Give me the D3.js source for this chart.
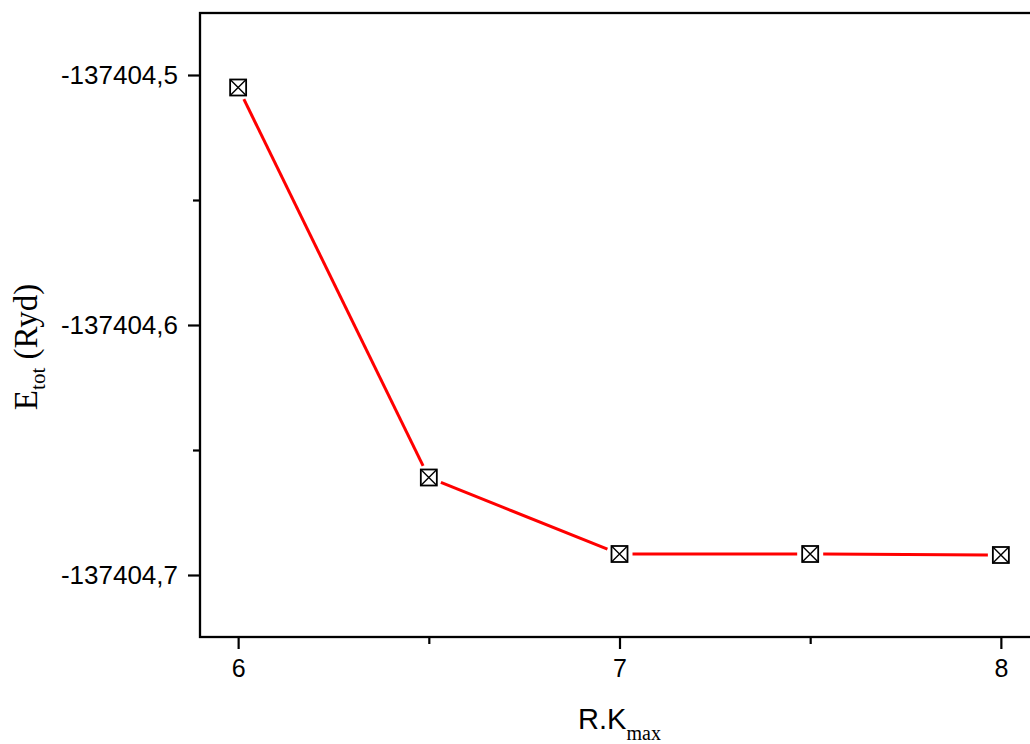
<!DOCTYPE html>
<html>
<head>
<meta charset="utf-8">
<script src="https://cdn.jsdelivr.net/npm/d3@7"></script>
<style>
  html, body { margin: 0; padding: 0; background: #fff; }
  svg { display: block; }
</style>
</head>
<body>
<svg id="chart" width="1030" height="744"></svg>
<script>
// ---- data ----
const rkmax = [6, 6.5, 7, 7.5, 8];
const etot = [-137404.505, -137404.661, -137404.6916, -137404.6916, -137404.692];
const xMajorTicks = [6, 7, 8];
const xMinorTicks = [6.5, 7.5];
const yMajorTicks = [-137404.5, -137404.6, -137404.7];
const yMinorTicks = [-137404.55, -137404.65];

(function () {
const svg = d3.select("#chart");
const pLeft = 200, pTop = 13, pBottom = 637, pRight = 1039;

const x = d3.scaleLinear().domain([5.9, 8.1]).range([pLeft, pRight]);
const y = d3.scaleLinear().domain([-137404.7248, -137404.4752]).range([pBottom, pTop]);

const fmt = v => d3.format(".1f")(v).replace("\u2212", "-").replace(".", ",");

// frame
svg.append("rect").attr("x", pLeft).attr("y", pTop)
  .attr("width", pRight - pLeft).attr("height", pBottom - pTop)
  .attr("fill", "none").attr("stroke", "#000").attr("stroke-width", 2.3);

// x axis
const xAxis = svg.append("g").attr("transform", `translate(0,${pBottom})`)
  .call(d3.axisBottom(x).tickValues(xMajorTicks).tickSize(12).tickSizeOuter(0).tickPadding(10).tickFormat(d3.format("d")));
xAxis.select(".domain").remove();
xAxis.selectAll(".tick line").attr("stroke-width", 2.2);
xAxis.selectAll(".tick text").attr("font-family", "'Liberation Sans', Arial, sans-serif").attr("font-size", 25).attr("fill", "#000");
const xMinor = svg.append("g").attr("transform", `translate(0,${pBottom})`)
  .call(d3.axisBottom(x).tickValues(xMinorTicks).tickSize(7).tickSizeOuter(0).tickFormat(""));
xMinor.select(".domain").remove();
xMinor.selectAll(".tick line").attr("stroke-width", 2.2);

// y axis
const yAxis = svg.append("g").attr("transform", `translate(${pLeft},0)`)
  .call(d3.axisLeft(y).tickValues(yMajorTicks).tickSize(12).tickSizeOuter(0).tickPadding(10).tickFormat(fmt));
yAxis.select(".domain").remove();
yAxis.selectAll(".tick line").attr("stroke-width", 2.2);
yAxis.selectAll(".tick text").attr("font-family", "'Liberation Sans', Arial, sans-serif").attr("font-size", 26).attr("fill", "#000");
const yMinor = svg.append("g").attr("transform", `translate(${pLeft},0)`)
  .call(d3.axisLeft(y).tickValues(yMinorTicks).tickSize(7).tickSizeOuter(0).tickFormat(""));
yMinor.select(".domain").remove();
yMinor.selectAll(".tick line").attr("stroke-width", 2.2);

// line with gaps near markers
const pts = rkmax.map((v, i) => [x(v), y(etot[i])]);
const gap = 13;
for (let i = 0; i < pts.length - 1; i++) {
  const [x1, y1] = pts[i], [x2, y2] = pts[i + 1];
  const dx = x2 - x1, dy = y2 - y1, L = Math.hypot(dx, dy);
  const ux = dx / L, uy = dy / L;
  svg.append("line")
    .attr("x1", x1 + ux * gap).attr("y1", y1 + uy * gap)
    .attr("x2", x2 - ux * gap).attr("y2", y2 - uy * gap)
    .attr("stroke", "#ff0000").attr("stroke-width", 3);
}

// markers
const s = 8;
const mk = svg.append("g").selectAll("g").data(pts).join("g")
  .attr("transform", d => `translate(${d[0]},${d[1]})`);
mk.append("rect").attr("x", -s).attr("y", -s).attr("width", 2 * s).attr("height", 2 * s)
  .attr("fill", "#fff").attr("stroke", "#000").attr("stroke-width", 1.8);
mk.append("path").attr("d", `M${-s},${-s}L${s},${s}M${s},${-s}L${-s},${s}`)
  .attr("stroke", "#000").attr("stroke-width", 1.4);

// x title
const xt = svg.append("text").attr("x", x(7)).attr("y", 729).attr("text-anchor", "middle").attr("fill", "#000");
xt.append("tspan").attr("font-family", "'Liberation Sans', Arial, sans-serif").attr("font-size", 29).text("R.K");
xt.append("tspan").attr("font-family", "'Liberation Serif', 'Times New Roman', serif").attr("font-size", 20).attr("dy", 11).text("max");

// y title
const yt = svg.append("text").attr("transform", "translate(37,347) rotate(-90)")
  .attr("text-anchor", "middle").attr("fill", "#000")
  .attr("font-family", "'Liberation Serif', 'Times New Roman', serif");
yt.append("tspan").attr("font-size", 33).text("E");
yt.append("tspan").attr("font-size", 21).attr("dy", 8).text("tot");
yt.append("tspan").attr("font-size", 33).attr("dy", -8).text(" (Ryd)");
})();
</script>
</body>
</html>
